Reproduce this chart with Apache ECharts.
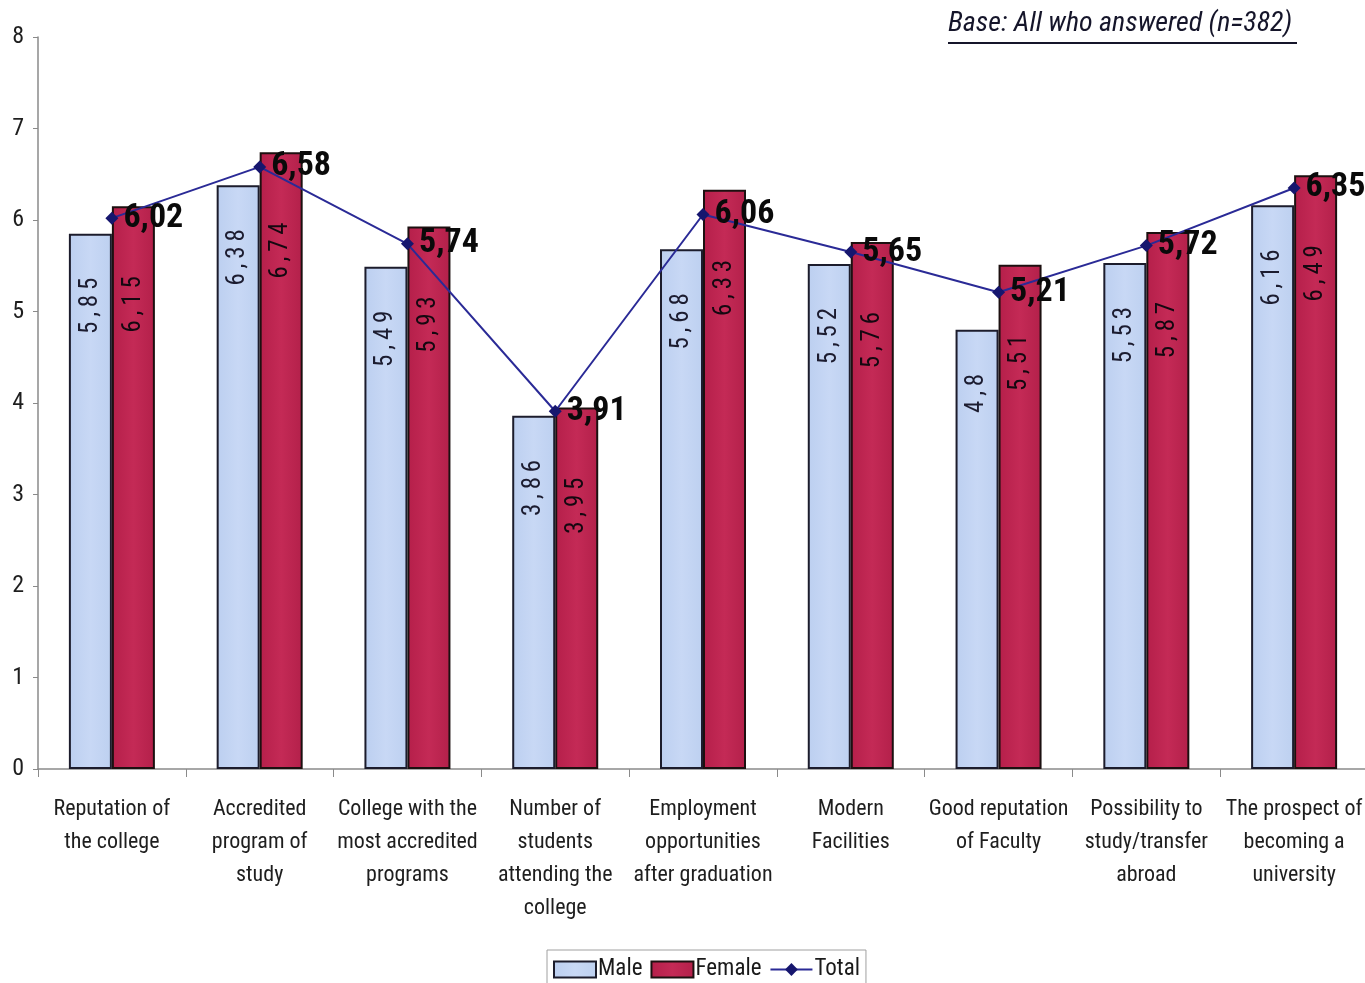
<!DOCTYPE html>
<html>
<head>
<meta charset="utf-8">
<script src="https://cdn.jsdelivr.net/npm/echarts@6/dist/echarts.min.js"></script>
<style>
  html, body { margin: 0; padding: 0; background: #ffffff; overflow: hidden; }
  /* the plot runs slightly past the right edge of the page */
  #chart { width: 1380px; height: 983px; }
</style>
</head>
<body>
<div id="chart"></div>
<script>
// Importance of college-choice factors, mean score by gender
const categories = [
  'Reputation of\nthe college',
  'Accredited\nprogram of\nstudy',
  'College with the\nmost accredited\nprograms',
  'Number of\nstudents\nattending the\ncollege',
  'Employment\nopportunities\nafter graduation',
  'Modern\nFacilities',
  'Good reputation\nof Faculty',
  'Possibility to\nstudy/transfer\nabroad',
  'The prospect of\nbecoming a\nuniversity'
];
const maleValues   = [5.85, 6.38, 5.49, 3.86, 5.68, 5.52, 4.8, 5.53, 6.16];
const femaleValues = [6.15, 6.74, 5.93, 3.95, 6.33, 5.76, 5.51, 5.87, 6.49];
const totalValues  = [6.02, 6.58, 5.74, 3.91, 6.06, 5.65, 5.21, 5.72, 6.35];
const yTicks = { min: 0, max: 8, step: 1 };
const baseNote = 'Base: All who answered (n=382)';

const narrow = "'Roboto Condensed', 'Liberation Sans Narrow', 'Arial Narrow', sans-serif";
const comma = v => String(v).replace('.', ',');
// spaced-out digits for the values written inside the bars
const spaced = v => comma(v).split('').join('\u2009');

const chart = echarts.init(document.getElementById('chart'), null, { renderer: 'canvas' });

chart.setOption({
  backgroundColor: '#ffffff',
  animation: false,
  grid: { left: 38, right: 12, top: 37, bottom: 214, containLabel: false },
  legend: {
    left: 547,
    top: 950,
    data: [
      { name: 'Male', icon: 'rect' },
      { name: 'Female', icon: 'rect' },
      'Total'
    ],
    itemWidth: 42,
    itemHeight: 16,
    itemGap: 8,
    padding: [8, 6, 12, 6],
    borderColor: '#a0a0a0',
    borderWidth: 1,
    textStyle: { fontFamily: narrow, fontSize: 23, color: '#1a1a1a', padding: [0, 0, 0, -3] }
  },
  xAxis: {
    type: 'category',
    data: categories,
    boundaryGap: true,
    axisLine: { lineStyle: { color: '#8a8a8a', width: 1.5 } },
    axisTick: { show: true, length: 8, alignWithLabel: false, lineStyle: { color: '#8a8a8a' } },
    axisLabel: {
      interval: 0,
      margin: 24,
      fontFamily: narrow,
      fontSize: 22,
      lineHeight: 33,
      color: '#1e1e1e'
    }
  },
  yAxis: {
    type: 'value',
    min: yTicks.min,
    max: yTicks.max,
    interval: yTicks.step,
    axisLine: { show: true, lineStyle: { color: '#8a8a8a', width: 1.5 } },
    axisTick: { show: true, length: 5, lineStyle: { color: '#8a8a8a' } },
    splitLine: { show: false },
    axisLabel: { fontFamily: narrow, fontSize: 24, color: '#1e1e1e', margin: 14 }
  },
  series: [
    {
      name: 'Male',
      type: 'bar',
      data: maleValues,
      barWidth: 43,
      barGap: '0%',
      itemStyle: {
        color: new echarts.graphic.LinearGradient(0, 0, 1, 0, [
          { offset: 0, color: '#bccff0' },
          { offset: 0.5, color: '#c8d8f5' },
          { offset: 1, color: '#bdd0f0' }
        ]),
        borderColor: '#1c1c2c',
        borderWidth: 2
      },
      label: {
        show: true,
        position: 'insideTop',
        distance: 44,
        rotate: 90,
        align: 'right',
        verticalAlign: 'middle',
        fontFamily: narrow,
        fontSize: 25,
        color: '#1c1c30',
        formatter: p => spaced(p.value)
      }
    },
    {
      name: 'Female',
      type: 'bar',
      data: femaleValues,
      barWidth: 43,
      barGap: '0%',
      itemStyle: {
        color: new echarts.graphic.LinearGradient(0, 0, 1, 0, [
          { offset: 0, color: '#b51f4a' },
          { offset: 0.5, color: '#c42a56' },
          { offset: 1, color: '#b3204a' }
        ]),
        borderColor: '#1c1010',
        borderWidth: 2
      },
      label: {
        show: true,
        position: 'insideTop',
        distance: 70,
        rotate: 90,
        align: 'right',
        verticalAlign: 'middle',
        fontFamily: narrow,
        fontSize: 25,
        color: '#140810',
        formatter: p => spaced(p.value)
      }
    },
    {
      name: 'Total',
      type: 'line',
      data: totalValues,
      symbol: 'diamond',
      symbolSize: 13,
      lineStyle: { color: '#2a2a96', width: 2 },
      itemStyle: { color: '#16166e' },
      z: 5,
      label: {
        show: true,
        position: 'right',
        distance: 5,
        fontFamily: narrow,
        fontWeight: 'bold',
        fontSize: 34,
        color: '#0a0a0a',
        formatter: p => comma(p.value)
      }
    }
  ],
  graphic: [
    {
      type: 'text',
      left: 948,
      top: 10,
      style: {
        text: baseNote,
        font: "italic 28px 'Roboto Condensed', 'Liberation Sans Narrow', sans-serif",
        fill: '#15152a'
      }
    },
    {
      type: 'line',
      shape: { x1: 948, y1: 43, x2: 1297, y2: 43 },
      style: { stroke: '#15152a', lineWidth: 2 }
    }
  ]
});
</script>
</body>
</html>
